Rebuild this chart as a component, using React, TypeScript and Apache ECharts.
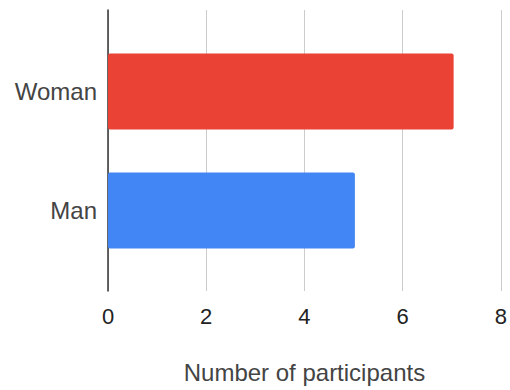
import React, { useEffect, useRef } from "react";
import * as echarts from "echarts";

const categories = ["Woman", "Man"];
const participants = [7, 5];
const barColors = ["#EA4335", "#4285F4"];
const xTicks = { min: 0, max: 8, interval: 2 };
const axisName = "Number of participants";

const FONT = "'Liberation Sans', Arial, sans-serif";

export default function App() {
  const ref = useRef<HTMLDivElement>(null);

  useEffect(() => {
    if (!ref.current) return;
    const chart = echarts.init(ref.current, undefined, { renderer: "svg" });
    chart.setOption({
      animation: false,
      backgroundColor: "#ffffff",
      textStyle: { fontFamily: FONT },
      grid: [
        // frame: gridlines, baseline and x-axis labels
        { left: 108, right: 7, top: 10, bottom: 99 },
        // bars sit in a slightly inset band
        { left: 108, right: 7, top: 32, bottom: 120 },
      ],
      xAxis: [
        {
          gridIndex: 0,
          type: "value",
          min: xTicks.min,
          max: xTicks.max,
          interval: xTicks.interval,
          axisLine: { show: false },
          axisTick: { show: false },
          splitLine: { lineStyle: { color: "#cccccc", width: 1 } },
          axisLabel: { color: "#222222", fontSize: 22, margin: 14, fontFamily: FONT },
          name: axisName,
          nameLocation: "middle",
          nameGap: 69,
          nameTextStyle: { color: "#444444", fontSize: 24, fontFamily: FONT },
        },
        {
          gridIndex: 1,
          type: "value",
          min: xTicks.min,
          max: xTicks.max,
          interval: xTicks.interval,
          show: false,
        },
      ],
      yAxis: [
        {
          gridIndex: 0,
          type: "value",
          axisLine: { show: true, lineStyle: { color: "#333333", width: 1.5 } },
          axisTick: { show: false },
          axisLabel: { show: false },
          splitLine: { show: false },
        },
        {
          gridIndex: 1,
          type: "category",
          data: categories,
          inverse: true,
          axisLine: { show: false },
          axisTick: { show: false },
          splitLine: { show: false },
          axisLabel: { color: "#444444", fontSize: 24, margin: 11, fontFamily: FONT },
        },
      ],
      series: [
        {
          type: "bar",
          xAxisIndex: 1,
          yAxisIndex: 1,
          barCategoryGap: "36%",
          data: participants.map((v, i) => ({
            value: v,
            itemStyle: { color: barColors[i], borderRadius: 2 },
          })),
        },
      ],
    });
    return () => chart.dispose();
  }, []);

  return (
    <div
      ref={ref}
      style={{ position: "fixed", left: 0, top: 0, width: 510, height: 390 }}
    />
  );
}
